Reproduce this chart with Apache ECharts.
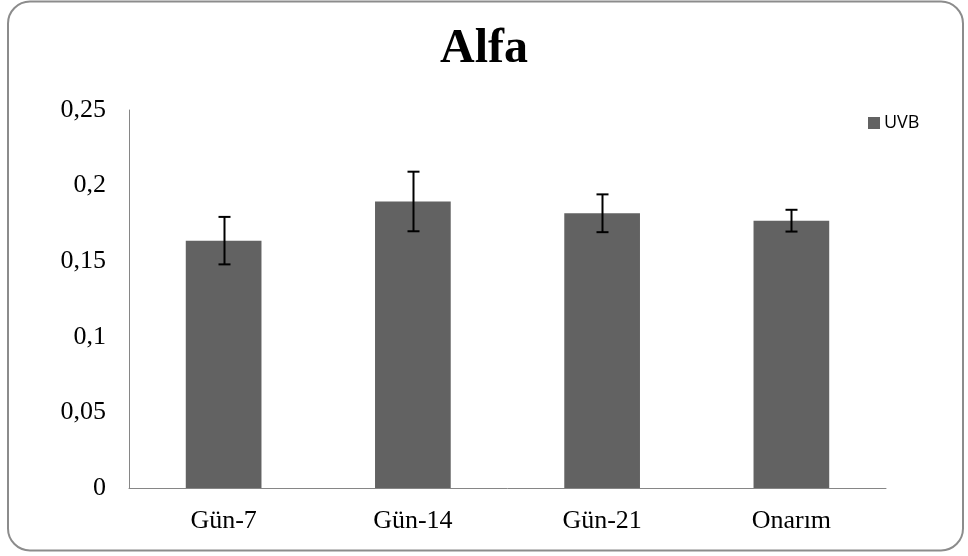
<!DOCTYPE html>
<html>
<head>
<meta charset="utf-8">
<script src="https://cdn.jsdelivr.net/npm/echarts@6/dist/echarts.min.js"></script>
<style>
html,body{margin:0;padding:0;background:#fff;}
#c{width:968px;height:556px;}
</style>
</head>
<body>
<div id="c"></div>
<script>
const categories = ['Gün-7', 'Gün-14', 'Gün-21', 'Onarım'];
const uvbValues = [0.1636, 0.1895, 0.1817, 0.1768];
const uvbErrors = [0.0157, 0.0197, 0.0125, 0.0072];
const yTicks = [0, 0.05, 0.1, 0.15, 0.2, 0.25];

const chart = echarts.init(document.getElementById('c'), null, {renderer: 'canvas'});
const errData = categories.map((c, i) => [i, uvbValues[i] - uvbErrors[i], uvbValues[i] + uvbErrors[i]]);

chart.setOption({
  animation: false,
  backgroundColor: '#fff',
  graphic: [{
    type: 'rect',
    shape: {x: 8, y: 1.5, width: 955, height: 549, r: 22},
    style: {fill: 'none', stroke: '#8c8c8c', lineWidth: 2},
    silent: true
  }],
  title: {
    text: 'Alfa',
    left: 'center',
    top: 21,
    textStyle: {fontFamily: 'Liberation Serif', fontWeight: 'bold', fontSize: 48, color: '#000'}
  },
  legend: {
    data: ['UVB'],
    left: 863,
    top: 109,
    icon: 'rect',
    itemWidth: 12,
    itemHeight: 12,
    itemGap: 5,
    textStyle: {fontFamily: 'Open Sans', fontSize: 18, color: '#000', padding: [0, 0, 0, -1]}
  },
  grid: {left: 129, right: 82, top: 110, bottom: 68, containLabel: false},
  xAxis: {
    type: 'category',
    data: categories,
    axisLine: {lineStyle: {color: '#868686', width: 1}},
    axisTick: {show: false},
    axisLabel: {fontFamily: 'Liberation Serif', fontSize: 26, color: '#000', margin: 20}
  },
  yAxis: {
    type: 'value',
    min: 0,
    max: 0.25,
    interval: 0.05,
    axisLine: {show: true, lineStyle: {color: '#868686', width: 1}},
    axisTick: {show: false},
    splitLine: {show: false},
    axisLabel: {
      fontFamily: 'Liberation Serif', fontSize: 26, color: '#000', margin: 23,
      formatter: v => {
        const t = yTicks.find(x => Math.abs(x - v) < 1e-9);
        return String(t !== undefined ? t : v).replace('.', ',');
      }
    }
  },
  series: [
    {
      name: 'UVB',
      type: 'bar',
      data: uvbValues,
      barWidth: '40%',
      itemStyle: {color: '#626262'}
    },
    {
      name: 'err',
      type: 'custom',
      data: errData,
      z: 10,
      renderItem: function (params, api) {
        const x = api.value(0);
        const lo = api.coord([x, api.value(1)]);
        const hi = api.coord([x, api.value(2)]);
        const cx = Math.round(lo[0]) + 0.5;
        const hw = 6;
        const st = {stroke: '#000', lineWidth: 2};
        return {
          type: 'group',
          children: [
            {type: 'line', shape: {x1: cx, y1: hi[1], x2: cx, y2: lo[1]}, style: st},
            {type: 'line', shape: {x1: cx - hw, y1: hi[1], x2: cx + hw, y2: hi[1]}, style: st},
            {type: 'line', shape: {x1: cx - hw, y1: lo[1], x2: cx + hw, y2: lo[1]}, style: st}
          ]
        };
      }
    }
  ]
});
</script>
</body>
</html>
